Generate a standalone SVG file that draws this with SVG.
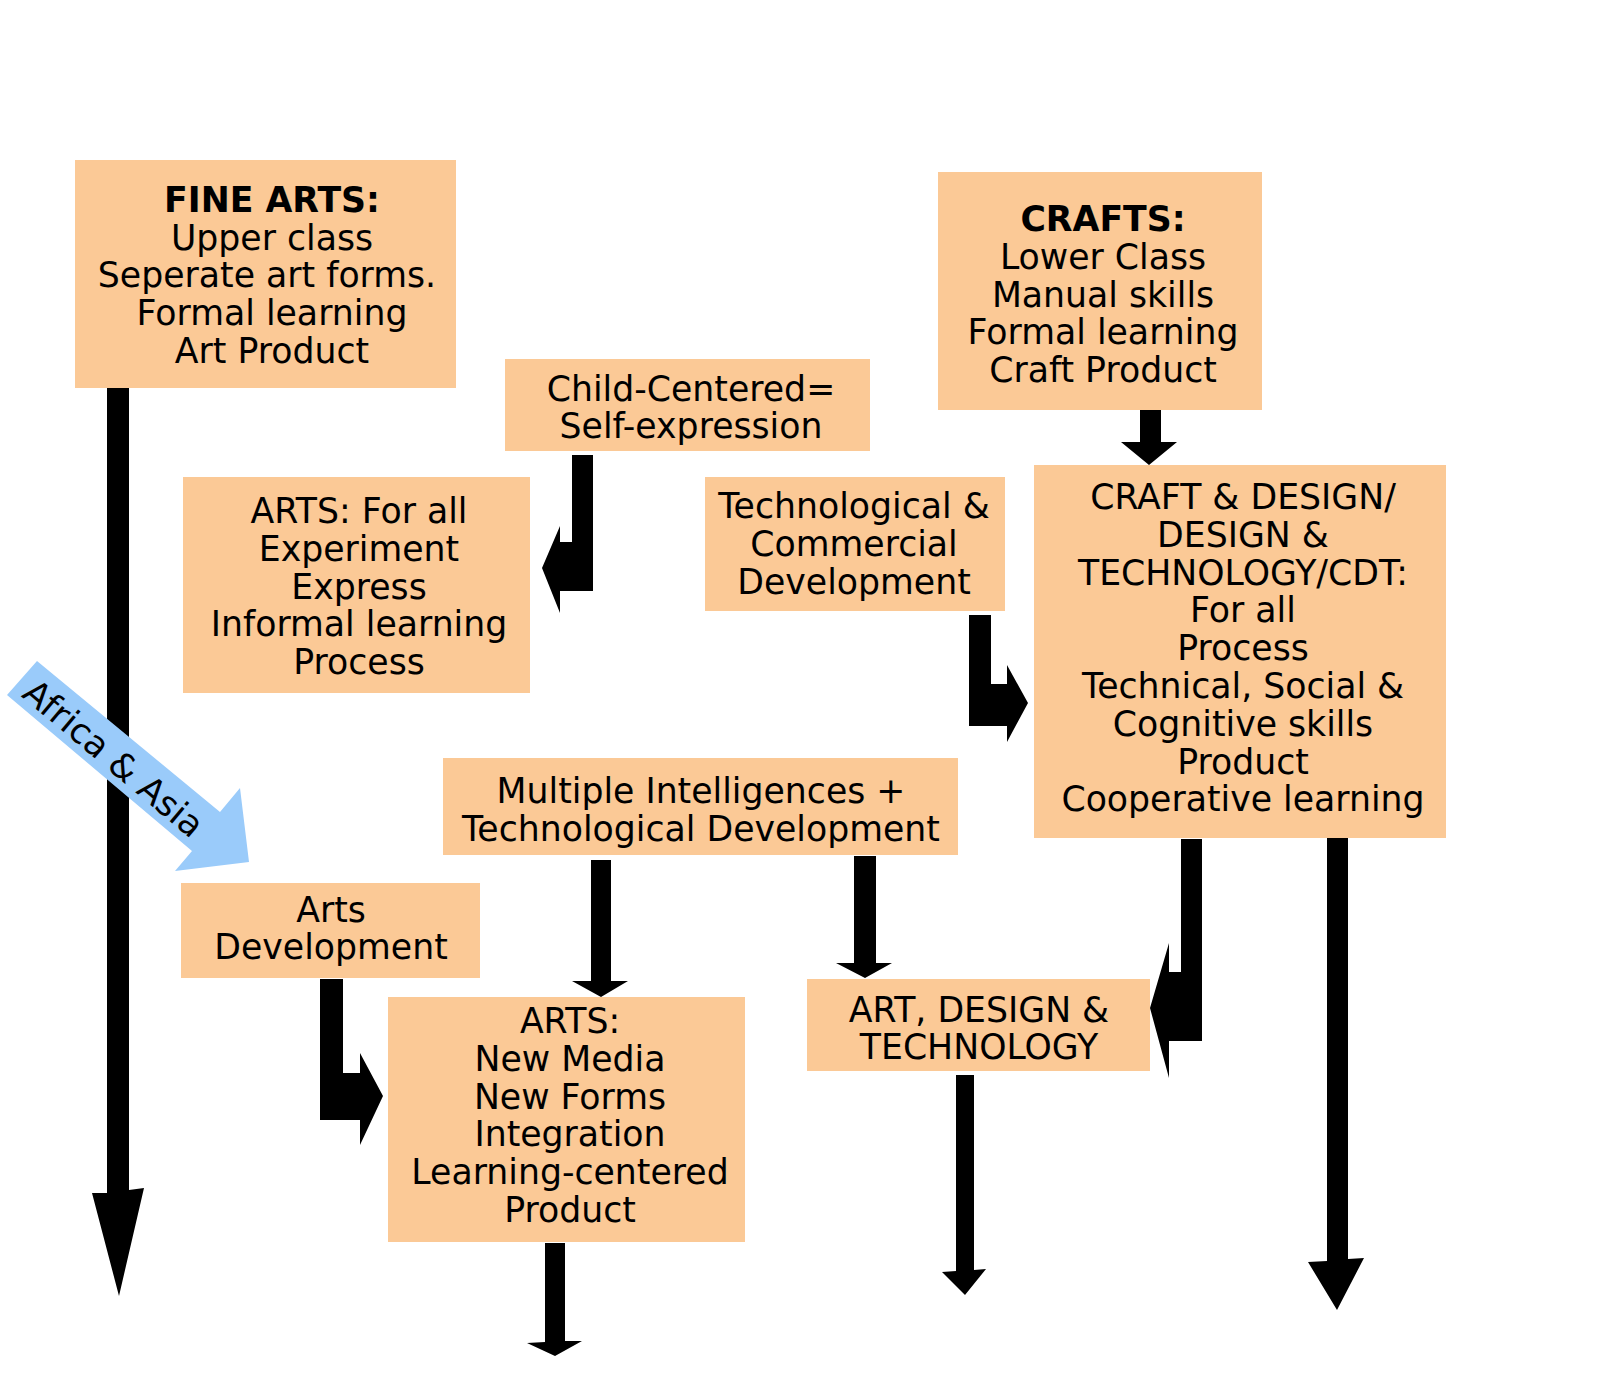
<svg xmlns="http://www.w3.org/2000/svg" width="1600" height="1399" viewBox="0 0 1600 1399">
<style>
.box{fill:#FBC996}
.t{font-family:"DejaVu Sans",Verdana,sans-serif;font-size:34.7px;text-anchor:middle;fill:#000}
.b{font-weight:bold}
.arr{fill:#000}
.blue{fill:#9ACBFA}
</style>
<rect width="1600" height="1399" fill="#fff"/>
<g id="connectors">
<polygon class="arr" points="107,388 129,388 129,1190 144,1188 119,1296 92,1193 107,1193"/>
<polygon class="arr" points="572,455 593,455 593,591 560,591 560,613 542,568 560,526 560,542 572,542"/>
<polygon class="arr" points="1140,410 1161,410 1161,442 1177,442 1149,465 1121,442 1140,442"/>
<polygon class="arr" points="969,615 991,615 991,684 1007,684 1007,665 1028,703 1007,742 1007,726 969,726"/>
<polygon class="arr" points="591,860 611,860 611,981 628,981 601,997 572,981 591,981"/>
<polygon class="arr" points="854,856 876,856 876,963 892,963 865,978 836,963 854,963"/>
<polygon class="arr" points="320,979 343,979 343,1073 360,1073 360,1053 383,1096 360,1145 360,1120 320,1120"/>
<polygon class="arr" points="1181,839 1202,839 1202,1041 1169,1041 1169,1078 1150,1008 1169,943 1169,972 1181,972"/>
<polygon class="arr" points="1327,838 1348,838 1348,1259 1364,1258 1337,1310 1308,1262 1327,1261"/>
<polygon class="arr" points="956,1075 974,1075 974,1270 986,1269 965,1295 942,1272 956,1271"/>
<polygon class="arr" points="545,1243 565,1243 565,1341 582,1341 555,1356 527,1343 545,1342"/>
</g>
<g id="africa-asia">
<polygon class="blue" points="37,661 220,812 240,788 249,862 175,871 192,851 7,695"/>
<text class="t" style="font-size:35px" transform="translate(114,758) rotate(40)" dy="0.36em">Africa &amp; Asia</text>
</g>
<g id="fine-arts">
<rect class="box" x="75" y="160" width="381" height="228"/>
<text class="t"><tspan class="b" x="272" y="212">FINE ARTS:</tspan><tspan x="272" y="250">Upper class</tspan><tspan x="267" y="287">Seperate art forms.</tspan><tspan x="272" y="325">Formal learning</tspan><tspan x="272" y="363">Art Product</tspan></text>
</g>
<g id="crafts">
<rect class="box" x="938" y="172" width="324" height="238"/>
<text class="t"><tspan class="b" x="1103" y="231">CRAFTS:</tspan><tspan x="1103" y="269">Lower Class</tspan><tspan x="1103" y="307">Manual skills</tspan><tspan x="1103" y="344">Formal learning</tspan><tspan x="1103" y="382">Craft Product</tspan></text>
</g>
<g id="child-centered">
<rect class="box" x="505" y="359" width="365" height="92"/>
<text class="t"><tspan x="691" y="401">Child-Centered=</tspan><tspan x="691" y="438">Self-expression</tspan></text>
</g>
<g id="arts-for-all">
<rect class="box" x="183" y="477" width="347" height="216"/>
<text class="t"><tspan x="359" y="523">ARTS: For all</tspan><tspan x="359" y="561">Experiment</tspan><tspan x="359" y="599">Express</tspan><tspan x="359" y="636">Informal learning</tspan><tspan x="359" y="674">Process</tspan></text>
</g>
<g id="tech-commercial">
<rect class="box" x="705" y="477" width="300" height="134"/>
<text class="t"><tspan x="854" y="518">Technological &amp;</tspan><tspan x="854" y="556">Commercial</tspan><tspan x="854" y="594">Development</tspan></text>
</g>
<g id="craft-design">
<rect class="box" x="1034" y="465" width="412" height="373"/>
<text class="t"><tspan x="1243" y="509">CRAFT &amp; DESIGN/</tspan><tspan x="1243" y="547">DESIGN &amp;</tspan><tspan x="1243" y="585">TECHNOLOGY/CDT:</tspan><tspan x="1243" y="622">For all</tspan><tspan x="1243" y="660">Process</tspan><tspan x="1243" y="698">Technical, Social &amp;</tspan><tspan x="1243" y="736">Cognitive skills</tspan><tspan x="1243" y="774">Product</tspan><tspan x="1243" y="811">Cooperative learning</tspan></text>
</g>
<g id="multiple-intelligences">
<rect class="box" x="443" y="758" width="515" height="97"/>
<text class="t"><tspan x="701" y="803">Multiple Intelligences +</tspan><tspan x="701" y="841">Technological Development</tspan></text>
</g>
<g id="arts-development">
<rect class="box" x="181" y="883" width="299" height="95"/>
<text class="t"><tspan x="331" y="922">Arts</tspan><tspan x="331" y="959">Development</tspan></text>
</g>
<g id="arts-new-media">
<rect class="box" x="388" y="997" width="357" height="245"/>
<text class="t"><tspan x="570" y="1033">ARTS:</tspan><tspan x="570" y="1071">New Media</tspan><tspan x="570" y="1109">New Forms</tspan><tspan x="570" y="1146">Integration</tspan><tspan x="570" y="1184">Learning-centered</tspan><tspan x="570" y="1222">Product</tspan></text>
</g>
<g id="art-design-technology">
<rect class="box" x="807" y="979" width="343" height="92"/>
<text class="t"><tspan x="979" y="1022">ART, DESIGN &amp;</tspan><tspan x="979" y="1059">TECHNOLOGY</tspan></text>
</g>
</svg>
